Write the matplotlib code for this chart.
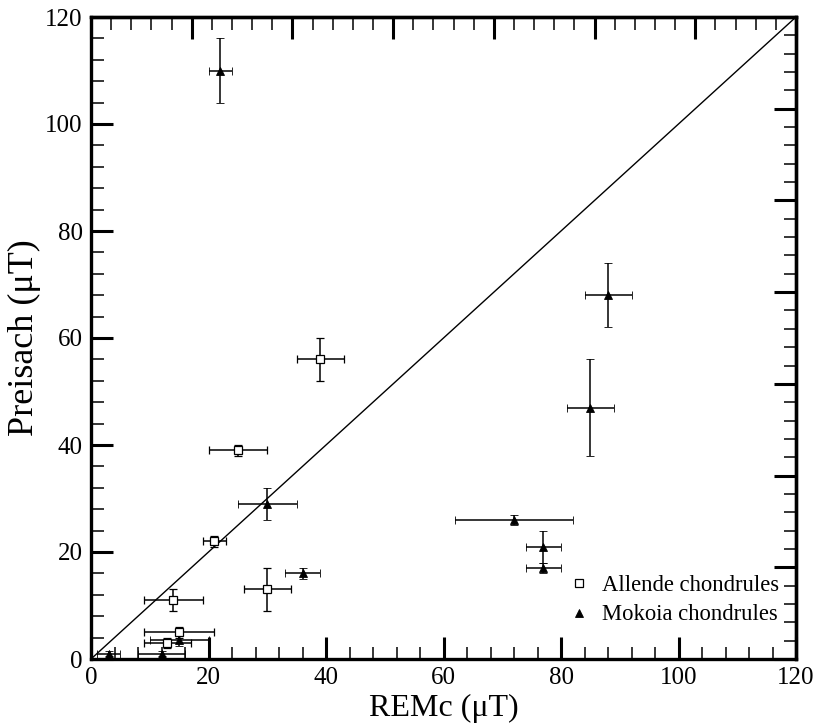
import numpy as np
import matplotlib
matplotlib.use("Agg")
import matplotlib.pyplot as plt
from matplotlib.ticker import MultipleLocator, FixedLocator, NullFormatter
from matplotlib.lines import Line2D

plt.rcParams['font.family'] = ['Liberation Serif', 'DejaVu Serif']

# Allende chondrules
allende_x = [39, 25, 21, 30, 14, 15, 13]
allende_y = [56, 39, 22, 13, 11, 5, 3]
allende_xerr = [4, 5, 2, 4, 5, 6, 4]
allende_yerr = [4, 1, 1, 4, 2, 1, 1]

# Mokoia chondrules
mokoia_x = [22, 88, 85, 72, 77, 77, 30, 36, 3, 12, 15]
mokoia_y = [110, 68, 47, 26, 21, 17, 29, 16, 1, 1, 3.5]
mokoia_xerr = [2, 4, 4, 10, 3, 3, 5, 3, 2, 4, 5]
mokoia_yerr = [6, 6, 9, 1, 3, 1, 3, 1, 0.5, 0.5, 1]

xlabel = "REMc (\u03bcT)"
ylabel = "Preisach (\u03bcT)"
legend_labels = ["Allende chondrules", "Mokoia chondrules"]

fig = plt.figure(figsize=(8.15, 7.23), dpi=100)
ax = fig.add_axes([91/815, 1-659/723, 705/815, 642/723])

ax.plot([0, 120], [0, 120], color='black', lw=1.0, zorder=1)

ekw = dict(ecolor='black', elinewidth=1.1, capsize=3.2, capthick=1.1, ls='none', zorder=3)
ax.errorbar(allende_x, allende_y, xerr=allende_xerr, yerr=allende_yerr,
            fmt='s', ms=5.5, mfc='white', mec='black', mew=0.9, **ekw)
ax.errorbar(mokoia_x, mokoia_y, xerr=mokoia_xerr, yerr=mokoia_yerr,
            fmt='^', ms=6, mfc='black', mec='black', mew=0.6, **ekw)

ax.set_xlim(0, 120)
ax.set_ylim(0, 120)
ax.xaxis.set_major_locator(MultipleLocator(20))
ax.xaxis.set_minor_locator(MultipleLocator(4))
ax.yaxis.set_major_locator(MultipleLocator(20))
ax.yaxis.set_minor_locator(MultipleLocator(4))
ax.tick_params(which='major', direction='in', length=16, width=2.2, labelsize=18, pad=6)
ax.tick_params(which='minor', direction='in', length=9, width=1.1)
ax.tick_params(top=False, right=False, which='both')
for s in ax.spines.values():
    s.set_linewidth(2.4)

# top and right axes with their own tick spacing (7 major intervals)
sec_x = ax.secondary_xaxis('top')
sec_y = ax.secondary_yaxis('right')
maj = [120 * i / 7 for i in range(8)]
mnr = [120 * i / 35 for i in range(36)]
for sa, axis in ((sec_x, sec_x.xaxis), (sec_y, sec_y.yaxis)):
    axis.set_major_locator(FixedLocator(maj))
    axis.set_minor_locator(FixedLocator(mnr))
    axis.set_major_formatter(NullFormatter())
    sa.tick_params(which='major', direction='in', length=16, width=2.2)
    sa.tick_params(which='minor', direction='in', length=9, width=1.1)
    for s in sa.spines.values():
        s.set_linewidth(2.4)

ax.set_xlabel(xlabel, fontsize=23, labelpad=3)
ax.set_ylabel(ylabel, fontsize=26, labelpad=3)

handles = [
    Line2D([], [], ls='none', marker='s', ms=5.5, mfc='white', mec='black', mew=0.9),
    Line2D([], [], ls='none', marker='^', ms=6, mfc='black', mec='black', mew=0.6),
]
leg = ax.legend(handles, legend_labels, loc='lower right', frameon=False, fontsize=16.3,
                handlelength=0.8, handletextpad=0.6, labelspacing=0.38,
                borderaxespad=0.6, bbox_to_anchor=(1.008, 0.017))

fig.savefig('out.png', dpi=100)
